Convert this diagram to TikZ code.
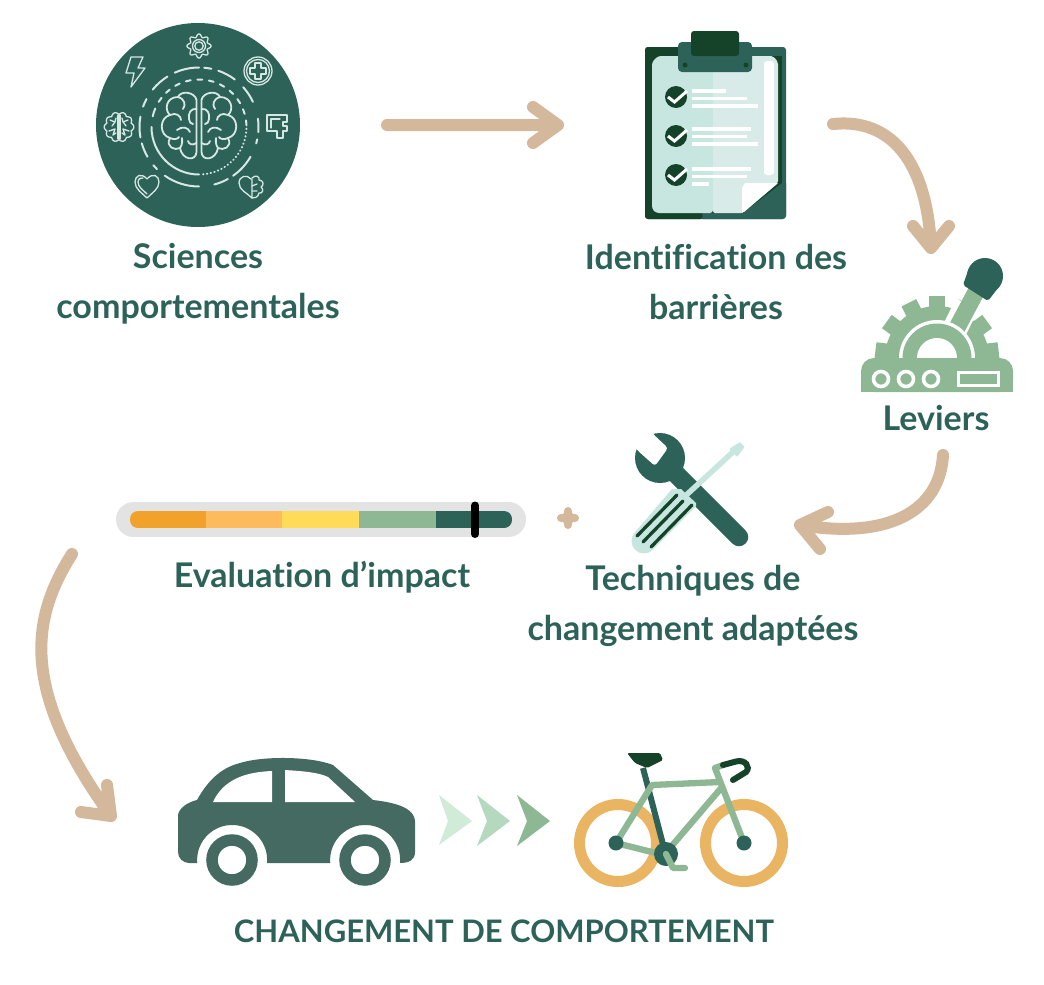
\documentclass[tikz,border=0pt]{standalone}
\usepackage{fontspec}
\setmainfont{Lato}[Ligatures=NoCommon]
\definecolor{deepgreen}{HTML}{2D6259}
\definecolor{darkgreen}{HTML}{14432A}
\definecolor{midgreen}{HTML}{8DB893}
\definecolor{mint}{HTML}{C7E6DF}
\definecolor{palemint}{HTML}{D9EBE9}
\definecolor{sand}{HTML}{D3B89C}
\definecolor{cargreen}{HTML}{446A62}
\definecolor{wheelgold}{HTML}{EAB562}
\definecolor{iconline}{HTML}{D5E8E3}
\tikzset{
  lab/.style={font=\bfseries\fontsize{34}{50}\selectfont,text=deepgreen,align=center,inner sep=0pt},
  capslab/.style={lab,font=\bfseries\fontsize{31}{50}\selectfont},
  flow/.style={draw=sand,line width=12pt,line cap=round,line join=round},
  icon/.style={draw=iconline,line width=1.3pt,line cap=round,line join=round},
  brainline/.style={draw=iconline,line width=1.8pt,line cap=round,line join=round},
  ring/.style={draw=iconline,line width=2pt,line cap=round},
  sheetline/.style={draw=white,line width=3.7pt},
  frame/.style={draw=midgreen,line width=6.3pt,line cap=round,line join=round},
}
\newcommand{\ringseg}[3]{\draw[ring] (199,127) ++(#2:#1) arc[start angle=#2,end angle=#3,radius=#1];}
\begin{document}
\begin{tikzpicture}[x=1pt,y=1pt,yscale=-1]
\useasboundingbox (0,0) rectangle (1044,985);
\fill[white] (0,0) rectangle (1044,985);

% ---------- sciences disc
\fill[deepgreen] (198,125) circle[radius=102];
\foreach \a/\b in {246/270,275/282,289/307,318/335,352/365,372/376,390/415,421/435,450/485,495/500,510/524,530/550,560/568,579/598}{\ringseg{59.5}{\a}{\b}}
\ringseg{47.5}{90}{180}
\foreach \a/\b in {193/203,212/218,226/232,240/246,254/260,268/274,282/288,296/302,310/316,324/330,338/344,352/358}{\ringseg{47.5}{\a}{\b}}
\draw[ring,dash pattern=on 0.4pt off 3.4pt] (199,127) ++(2:47.5) arc[start angle=2,end angle=88,radius=47.5];
% big brain
\foreach \s in {1,-1}{
\begin{scope}[shift={(199,0)},xscale=\s]
\draw[brainline] (-2.5,100) .. controls (-4,92) and (-18,90) .. (-21,97)
  .. controls (-33,97) and (-35,110) .. (-29,115)
  .. controls (-40,118) and (-40,135) .. (-29,138)
  .. controls (-34,147) and (-24,151) .. (-19,148)
  .. controls (-17,160) and (-3,162) .. (-2.5,152) -- cycle;
\draw[brainline] (-21,97) .. controls (-14,99) and (-13,105) .. (-16,109);
\draw[brainline] (-29,115) .. controls (-23,112) and (-18,116) .. (-18,120);
\draw[brainline] (-2.5,109) .. controls (-8,108) and (-11,113) .. (-10,119) .. controls (-10,122) and (-8,124) .. (-6,124);
\draw[brainline] (-22,130) .. controls (-17,126) and (-11,127) .. (-9,132);
\draw[brainline] (-29,138) .. controls (-25,140) and (-21,139) .. (-20,137);
\draw[brainline] (-19,148) .. controls (-16,144) and (-17,140) .. (-17,138);
\draw[brainline] (-2.5,143) .. controls (-7,146) and (-10,144) .. (-11,141);
\end{scope}}
% gear
\begin{scope}[shift={(199,46)}]
\draw[icon] plot[domain=0:360,samples=97,smooth] (\x:{10.5+1.6*cos(8*\x)}) -- cycle;
\draw[icon] (0,0) circle[radius=6.5];
\draw[icon] (0,0) circle[radius=4.2];
\end{scope}
% bolt
\draw[icon] (131,57) -- (143,57) -- (138,68) -- (145,68) -- (131,87) -- (134,73) -- (126,73) -- cycle;
% medical
\draw[icon] (258,71) circle[radius=14];
\draw[icon] (258,71) circle[radius=11.5];
\draw[icon] (255,63) -- (261,63) -- (261,68) -- (266,68) -- (266,74) -- (261,74) -- (261,79) -- (255,79) -- (255,74) -- (250,74) -- (250,68) -- (255,68) -- cycle;
% puzzle
\draw[icon] (267,115) -- (287,115) -- (287,122) -- (283,122) -- (283,126) -- (287,126) -- (287,131) -- (283,131) -- (283,138) -- (277,138) -- (277,131) -- (267,131) -- cycle;
\draw[icon] (271,128) -- (271,119) -- (280,119);
% small brain
\begin{scope}[shift={(119,127)}]
\draw[icon] plot[domain=0:360,samples=145] (\x:{12.6+2.2*abs(cos(5*\x))}) -- cycle;
\draw[icon] (-0.9,-12) -- (-0.9,12) (0.9,-12) -- (0.9,12);
\draw[icon] (-9,-7) -- (-4,-5) -- (-7,-1) (-10,4) -- (-4,2) -- (-6,8) (-3,-9) -- (-4,-5) (-3,6) -- (-6,8);
\draw[icon] (9,-7) -- (4,-5) -- (7,-1) (10,4) -- (4,2) -- (6,8) (3,-9) -- (4,-5) (3,6) -- (6,8);
\end{scope}
% heart
\draw[icon] (147,179) .. controls (141,172) and (135,176) .. (135,182) .. controls (135,189) and (142,193) .. (147,198)
  .. controls (152,193) and (159,189) .. (159,182) .. controls (159,176) and (153,172) .. (147,179) -- cycle;
\draw[icon] (147,194) .. controls (143,190) and (138,187) .. (138,182) .. controls (138,179) and (141,177) .. (143,178);
% heart-brain
\draw[icon] (251,179) .. controls (247,174) and (239,176) .. (239,183) .. controls (239,190) and (247,193) .. (252,198) -- (252,179);
\draw[icon] (252,178) .. controls (256,174) and (260,177) .. (259,180) .. controls (264,180) and (264,186) .. (261,187) .. controls (264,189) and (263,194) .. (259,193) .. controls (258,198) and (254,198) .. (252,198);
\draw[icon] (252,186) -- (257,184) (252,191) -- (257,191);

% ---------- clipboard
\fill[deepgreen,rounded corners=3pt] (645,47) rectangle (786,219);
\fill[darkgreen,rounded corners=3pt] (645,47) -- (680,47) -- (680,62) -- (703,219) -- (645,219) -- cycle;
\fill[darkgreen] (660,56) rectangle (782,213);
\fill[deepgreen] (782,52) rectangle (786,213);
\fill[deepgreen] (743,213) -- (782,183) -- (786,183) -- (786,215) -- (782,219) -- (703,219) -- (703,215.5) -- (743,215.5) -- cycle;
\fill[mint,rounded corners=3pt] (713,62) -- (713,56) -- (658,56) -- (652,62) -- (652,209) -- (656,213) -- (713,213) -- cycle;
\fill[palemint,rounded corners=2pt] (713,56) -- (773,56) -- (778,62) -- (778,183) -- (743,213) -- (713,213) -- cycle;
\fill[white,rounded corners=3pt] (764,61) rectangle (774,175);
\fill[white] (742,213) -- (742,188) -- (745,183) -- (778,183) -- cycle;
\foreach \y in {97,136,175}{
  \fill[darkgreen] (676,\y) circle[radius=11];
  \draw[white,line width=3pt] (668,\y) -- (674.5,\y+5) -- (687,\y-6);
}
\foreach \y/\xa/\xb/\xc in {91/726/747/758,129/751/747/758,169/751/747/709}{
  \draw[sheetline] (692,\y) -- (\xa,\y);
  \draw[sheetline] (692,\y+7.5) -- (\xb,\y+7.5);
  \draw[sheetline] (692,\y+15) -- (\xc,\y+15);
}
\fill[deepgreen,rounded corners=4pt] (678,42) rectangle (752,72);
\fill[darkgreen] (685,65) circle[radius=2.5] (746,65) circle[radius=2.5];
\fill[darkgreen,rounded corners=3pt] (691,31) rectangle (739,56);

% ---------- lever
\begin{scope}
\clip (850,250) rectangle (1020,358);
\fill[midgreen] (937,358) circle[radius=52];
\foreach \a in {173,144,117,90,62,36,7}{
  \draw[midgreen,line width=16.5pt] (937,358) ++(-\a:38) -- ++(-\a:24);
}
\end{scope}
\draw[white,line width=25pt] (952,335) -- (967,304);
\draw[midgreen,line width=17pt] (952,337) -- (976,292);
\fill[white] (899,358) arc[start angle=180,end angle=360,radius=38] -- cycle;
\fill[midgreen] (902.5,358) arc[start angle=180,end angle=360,radius=34.5] -- cycle;
\fill[white] (917,358) arc[start angle=180,end angle=360,radius=20] -- cycle;
\fill[deepgreen,rounded corners=2pt] (969,268) -- (1001,284) -- (988,301) -- (963,285) -- cycle;
\fill[deepgreen] (985,276) circle[radius=18];
\fill[midgreen,rounded corners=13pt] (861,392) -- (861,358) -- (1013,358) -- (1013,392) -- cycle;
\fill[midgreen] (861,380) rectangle (1013,392);
\foreach \x in {881,906,931}{\draw[white,line width=3.6pt] (\x,379) circle[radius=7.5];}
\draw[white,line width=3.3pt] (958.5,372.5) rectangle (998.5,385.5);

% ---------- gauge
\draw[black!11,line width=35pt,line cap=round] (133.5,519.5) -- (508.5,519.5);
\begin{scope}
\clip[rounded corners=8pt] (130,511) rectangle (512,528);
\fill[fill={rgb,255:red,240;green,162;blue,42}] (130,511) rectangle (206,528);
\fill[fill={rgb,255:red,253;green,187;blue,92}] (206,511) rectangle (282,528);
\fill[fill={rgb,255:red,255;green,219;blue,88}] (282,511) rectangle (359,528);
\fill[midgreen] (359,511) rectangle (436,528);
\fill[deepgreen] (436,511) rectangle (512,528);
\end{scope}
\draw[black,line width=8pt,line cap=round] (475,505.5) -- (475,534);
% plus
\draw[sand,line width=8pt,line cap=round] (561,518) -- (575,518) (568,511) -- (568,525);
\fill[sand] (568,518) circle[radius=6.5];

% ---------- tools
\draw[deepgreen,line width=18.5pt,line cap=round] (660,458) -- (739,537);
\fill[deepgreen] (660,458) circle[radius=25];
\fill[white,rounded corners=3pt] (653,434) -- (668,448) -- (655,466) -- (637,450) -- (620,425) -- (645,415) -- cycle;
\draw[mint,line width=5.5pt] (682,499) -- (733,452);
\fill[mint,rounded corners=1pt] (729,449) -- (740,442) -- (744.5,447) -- (737,457) -- cycle;
\fill[mint] (634.6,532.8) -- (672,489) -- (681,489) -- (696,503) -- (696,506) -- (653.4,549.2) -- cycle;
\fill[mint] (644,541) circle[radius=12.5];
\draw[darkgreen,line width=3.3pt,line cap=round] (637,536) -- (677,495) (643,542) -- (683,501) (651,547) -- (692,505);

% ---------- car
\fill[cargreen] (178,815) .. controls (179,808) and (188,802) .. (197,800)
  .. controls (207,782) and (220,768) .. (240,763)
  .. controls (262,756) and (310,756) .. (333,765)
  -- (373,800) .. controls (390,802) and (415,806) .. (415,822)
  -- (415,852) .. controls (415,860) and (409,863) .. (400,863)
  arc[start angle=5,end angle=-185,radius=35]
  -- (267,863) arc[start angle=5,end angle=-185,radius=35]
  -- (189,863) .. controls (183,863) and (178,858) .. (178,852) -- cycle;
\fill[white] (213,802) -- (272,802) -- (272,771) .. controls (248,772) and (224,778) .. (213,802) -- cycle;
\fill[white] (285,802) -- (355,802) -- (328,777) .. controls (318,772) and (300,771) .. (285,770) -- cycle;
\draw[cargreen,line width=11.5pt] (232,860) circle[radius=20] (365,860) circle[radius=20];

% ---------- chevrons
\fill[fill={rgb,255:red,208;green,235;blue,216}] (439,795) -- (472,821) -- (439,845) -- (448,821) -- cycle;
\fill[fill={rgb,255:red,181;green,217;blue,190}] (477,795) -- (510,821) -- (477,846) -- (487,821) -- cycle;
\fill[midgreen] (517,795) -- (550,821) -- (517,846) -- (527,821) -- cycle;

% ---------- bicycle
\draw[wheelgold,line width=11pt] (618,843) circle[radius=38.5] (744,843) circle[radius=38.5];
\draw[deepgreen,line width=6pt] (643,768) -- (665,852);
\fill[darkgreen,rounded corners=1.5pt] (627,753) -- (660,753) -- (663,760) -- (647,768) -- (635,763) -- cycle;
\draw[frame] (616,843) -- (652,785) -- (720,782) (616,843) -- (660,854) (722,787) -- (670,848) (744,843) -- (715,768) -- (723,765);
\draw[darkgreen,line width=6pt,line cap=round] (723,765) -- (736,761.5) .. controls (745,759) and (751,767) .. (746,772) -- (733,780);
\fill[deepgreen] (666,854) circle[radius=12];
\fill[deepgreen] (616,843) circle[radius=7.5] (744,843) circle[radius=7.5];
\draw[frame] (666,854) -- (673,868) -- (685,868);

% ---------- labels
\node[lab] (sci) at (198,284) {Sciences\\comportementales};
\node[lab] (ident) at (716,282) {Identification des\\barrières};
\node[lab] (lev) at (936,418) {Leviers};
\node[lab] (eval) at (322,577) {Evaluation d’impact};
\node[lab] (tech) at (693,605.5) {Techniques de\\changement adaptées};
\node[capslab] (chg) at (504,931) {CHANGEMENT DE COMPORTEMENT};

% ---------- connectors
\coordinate (a1s) at (387,125); \coordinate (a1t) at (558,125);
\coordinate (a1u) at (533,107); \coordinate (a1d) at (533,143);
\draw[flow] (a1s) -- (a1t) (a1u) -- (a1t) -- (a1d);
\coordinate (a2s) at (833,124); \coordinate (a2t) at (931,248);
\coordinate (a2u) at (913,226); \coordinate (a2d) at (949,226);
\draw[flow] (a2s) .. controls (890,118) and (927,160) .. (a2t) (a2u) -- (a2t) -- (a2d);
\coordinate (a3s) at (943,455); \coordinate (a3t) at (800,525);
\coordinate (a3u) at (828,512); \coordinate (a3d) at (820,549);
\draw[flow] (a3s) .. controls (940,510) and (890,540) .. (a3t) (a3u) -- (a3t) -- (a3d);
\coordinate (a4s) at (72,554); \coordinate (a4t) at (111,816);
\coordinate (a4u) at (107,785); \coordinate (a4d) at (81,812);
\draw[flow] (a4s) .. controls (30,620) and (21,691) .. (a4t) (a4u) -- (a4t) -- (a4d);
\end{tikzpicture}
\end{document}
